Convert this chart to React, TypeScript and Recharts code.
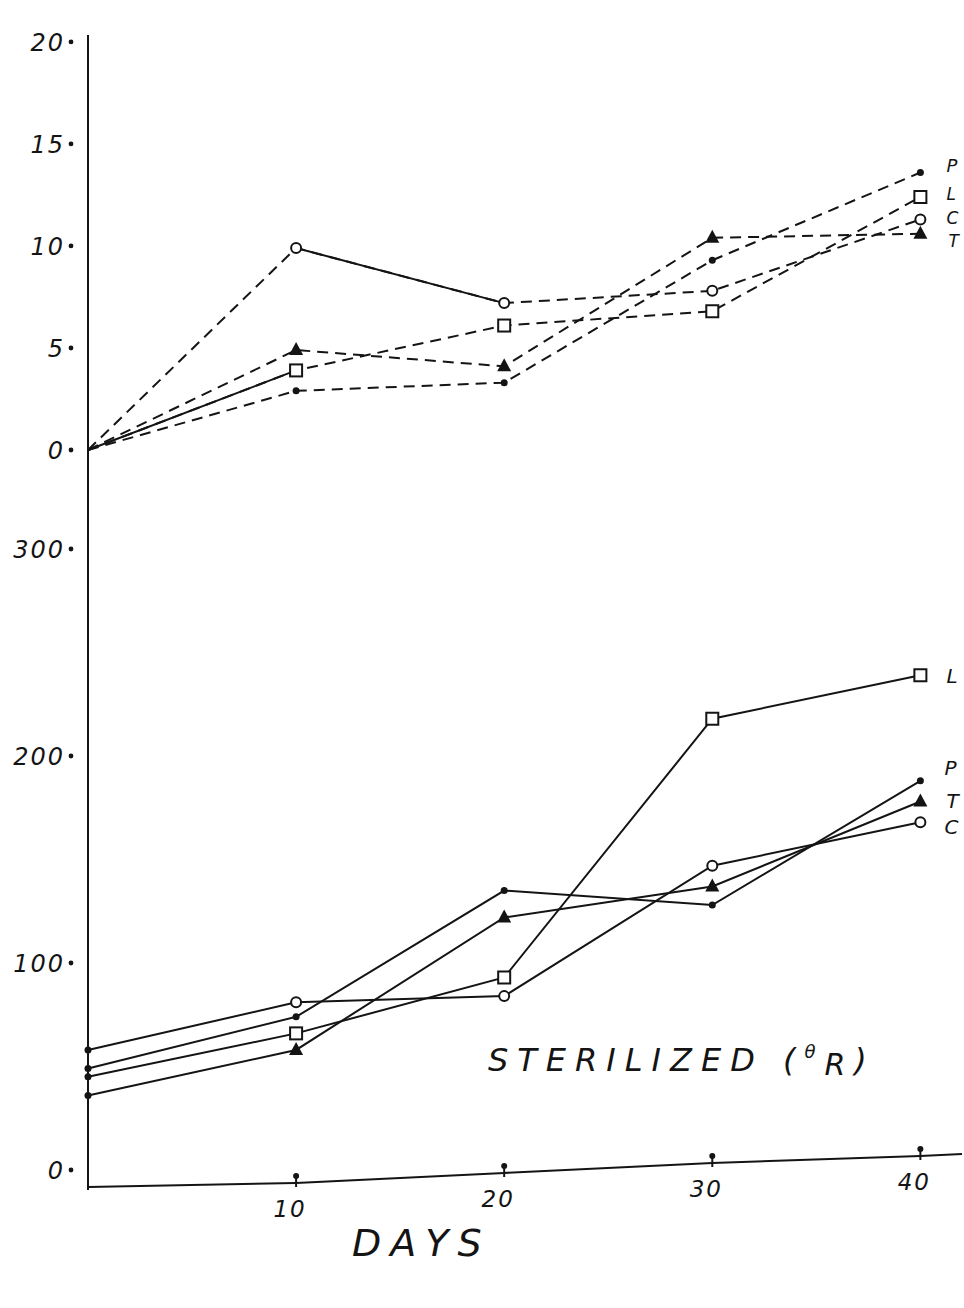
import React from 'react';
import { LineChart, Line, XAxis, YAxis, LabelList, ReferenceLine } from 'recharts';

// days after start
const days = [0, 10, 20, 30, 40];

// upper panel (0-20 scale)
const topP = [0, 2.9, 3.3, 9.3, 13.6];
const topL = [0, 3.9, 6.1, 6.8, 12.4];
const topC = [0, 9.9, 7.2, 7.8, 11.3];
const topT = [0, 4.9, 4.1, 10.4, 10.6];

// lower panel, sterilized (0-300 scale)
const botP = [49, 74, 135, 128, 188];
const botL = [45, 66, 93, 218, 239];
const botC = [58, 81, 84, 147, 168];
const botT = [36, 58, 122, 137, 178];

const topTicks = [0, 5, 10, 15, 20];
const botTicks = [0, 100, 200, 300];
const xTicks = [10, 20, 30, 40];

const INK = '#141414';
const FONT = '"DejaVu Sans", "Liberation Sans", sans-serif';

const topRows = days.map((d, i) => ({
  day: d,
  p: topP[i],
  l: topL[i],
  c: topC[i],
  t: topT[i],
  cSolid: i === 1 || i === 2 ? topC[i] : null,
  lSolid: i <= 1 ? topL[i] : null,
}));

const botRows = days.map((d, i) => ({
  day: d,
  p: botP[i],
  l: botL[i],
  c: botC[i],
  t: botT[i],
}));

const W = 964;
const H = 1308;
const margin = { top: 35, right: 2, bottom: 88, left: 0 };

// the hand-drawn day axis bends upward after day 10 (in lower-panel units)
const dayAxis = [
  [0, -8.2],
  [10, -6.3],
  [20, -1.4],
  [30, 3.4],
  [40, 6.8],
  [42, 7.7],
];
const axisPx = [1183, 1173, 1163, 1156];

// marker factory: first point of each series gets a small dot (or nothing)
const marker = (kind: string, firstDot: boolean) => (props: any) => {
  const { cx, cy, index } = props;
  if (cx == null || cy == null) return null;
  const k = `${kind}-${index}`;
  if (index === 0) {
    return firstDot ? <circle key={k} cx={cx} cy={cy} r={3.5} fill={INK} /> : <g key={k} />;
  }
  if (kind === 'p') return <circle key={k} cx={cx} cy={cy} r={3.5} fill={INK} />;
  if (kind === 'c')
    return <circle key={k} cx={cx} cy={cy} r={5} fill="#fff" stroke={INK} strokeWidth={2} />;
  if (kind === 'l')
    return (
      <rect key={k} x={cx - 6} y={cy - 6} width={12} height={12} fill="#fff" stroke={INK} strokeWidth={2} />
    );
  return <path key={k} d={`M${cx},${cy - 8} L${cx + 7},${cy + 5} L${cx - 7},${cy + 5} Z`} fill={INK} />;
};

const endLabel = (text: string, dx: number, dy: number, size = 20) => (props: any) => {
  const { x, y, index } = props;
  if (index !== days.length - 1) return null;
  return (
    <text x={x + dx} y={y + dy} fontFamily={FONT} fontStyle="italic" fontSize={size} fill={INK}>
      {text}
    </text>
  );
};

const YTick = (props: any) => {
  const { x, y, payload } = props;
  return (
    <g>
      <text
        x={x - 15}
        y={y + 9}
        textAnchor="end"
        fontFamily={FONT}
        fontStyle="italic"
        fontSize={24}
        letterSpacing={2}
        fill={INK}
      >
        {payload.value}
      </text>
      <circle cx={x - 9} cy={y} r={2.4} fill={INK} />
    </g>
  );
};

const XTick = (props: any) => {
  const { x, y, payload } = props;
  return (
    <g>
      <line x1={x} y1={y - 9} x2={x} y2={y + 4} stroke={INK} strokeWidth={2} />
      <circle cx={x} cy={y - 7} r={3} fill={INK} />
      <text
        x={x - 6}
        y={y + 34}
        textAnchor="middle"
        fontFamily={FONT}
        fontStyle="italic"
        fontSize={23}
        letterSpacing={2}
        fill={INK}
      >
        {payload.value}
      </text>
    </g>
  );
};

const dash = '11 7';

export default function App() {
  return (
    <div style={{ position: 'absolute', left: 0, top: 0, width: W, height: H, background: '#fff' }}>
      <div style={{ position: 'absolute', left: 0, top: 0 }}>
        <LineChart width={W} height={H} data={topRows} margin={margin}>
          <XAxis
            dataKey="day"
            type="number"
            domain={[0, 42]}
            ticks={xTicks}
            height={30}
            axisLine={false}
            tickLine={false}
            tick={false}
          />
          <YAxis
            type="number"
            domain={[-36.27, 20.34]}
            ticks={topTicks}
            width={88}
            allowDataOverflow
            axisLine={{ stroke: INK, strokeWidth: 2 }}
            tickLine={false}
            tick={<YTick />}
          />
          <Line dataKey="lSolid" stroke={INK} strokeWidth={2} dot={false} isAnimationActive={false} connectNulls={false} />
          <Line dataKey="cSolid" stroke={INK} strokeWidth={2} dot={false} isAnimationActive={false} connectNulls={false} />
          <Line dataKey="p" stroke={INK} strokeWidth={2} strokeDasharray={dash} dot={marker('p', false)} isAnimationActive={false}>
            <LabelList dataKey="p" content={endLabel('P', 26, -1, 18)} />
          </Line>
          <Line dataKey="l" stroke={INK} strokeWidth={2} strokeDasharray={dash} dot={marker('l', false)} isAnimationActive={false}>
            <LabelList dataKey="l" content={endLabel('L', 26, 3, 17)} />
          </Line>
          <Line dataKey="c" stroke={INK} strokeWidth={2} strokeDasharray={dash} dot={marker('c', false)} isAnimationActive={false}>
            <LabelList dataKey="c" content={endLabel('C', 26, 5, 17)} />
          </Line>
          <Line dataKey="t" stroke={INK} strokeWidth={2} strokeDasharray={dash} dot={marker('t', false)} isAnimationActive={false}>
            <LabelList dataKey="t" content={endLabel('T', 28, 13, 17)} />
          </Line>
        </LineChart>
      </div>
      <div style={{ position: 'absolute', left: 0, top: 0 }}>
        <LineChart width={W} height={H} data={botRows} margin={margin}>
          <XAxis
            dataKey="day"
            type="number"
            domain={[0, 42]}
            ticks={xTicks}
            height={30}
            axisLine={false}
            tickLine={false}
            tick={(p: any) => {
              const i = xTicks.indexOf(p.payload.value);
              return <XTick key={`xt-${i}`} {...p} y={axisPx[i]} />;
            }}
          />
          <YAxis
            type="number"
            domain={[-9.66, 548.3]}
            ticks={botTicks}
            width={88}
            allowDataOverflow
            axisLine={false}
            tickLine={false}
            tick={<YTick />}
          />
          {dayAxis.slice(1).map((pt, i) => (
            <ReferenceLine
              key={`ax-${i}`}
              segment={[
                { x: dayAxis[i][0], y: dayAxis[i][1] },
                { x: pt[0], y: pt[1] },
              ]}
              stroke={INK}
              strokeWidth={2}
              ifOverflow="visible"
            />
          ))}
          <Line dataKey="p" stroke={INK} strokeWidth={2} dot={marker('p', true)} isAnimationActive={false}>
            <LabelList dataKey="p" content={endLabel('P', 24, -6)} />
          </Line>
          <Line dataKey="l" stroke={INK} strokeWidth={2} dot={marker('l', true)} isAnimationActive={false}>
            <LabelList dataKey="l" content={endLabel('L', 26, 8)} />
          </Line>
          <Line dataKey="c" stroke={INK} strokeWidth={2} dot={marker('c', true)} isAnimationActive={false}>
            <LabelList dataKey="c" content={endLabel('C', 24, 12)} />
          </Line>
          <Line dataKey="t" stroke={INK} strokeWidth={2} dot={marker('t', true)} isAnimationActive={false}>
            <LabelList dataKey="t" content={endLabel('T', 26, 6)} />
          </Line>
        </LineChart>
      </div>
      <svg
        width={W}
        height={H}
        style={{ position: 'absolute', left: 0, top: 0, pointerEvents: 'none' }}
      >
        <text
          x={488}
          y={1071}
          fontFamily={FONT}
          fontStyle="italic"
          fontSize={32}
          letterSpacing={9}
          fill={INK}
        >
          STERILIZED (
          <tspan fontSize={18} dy={-13}>θ</tspan>
          <tspan fontSize={30} dy={17}>R</tspan>
          <tspan dy={-4}>)</tspan>
        </text>
        <text
          x={352}
          y={1256}
          fontFamily={FONT}
          fontStyle="italic"
          fontSize={38}
          letterSpacing={9}
          fill={INK}
        >
          DAYS
        </text>
      </svg>
    </div>
  );
}
